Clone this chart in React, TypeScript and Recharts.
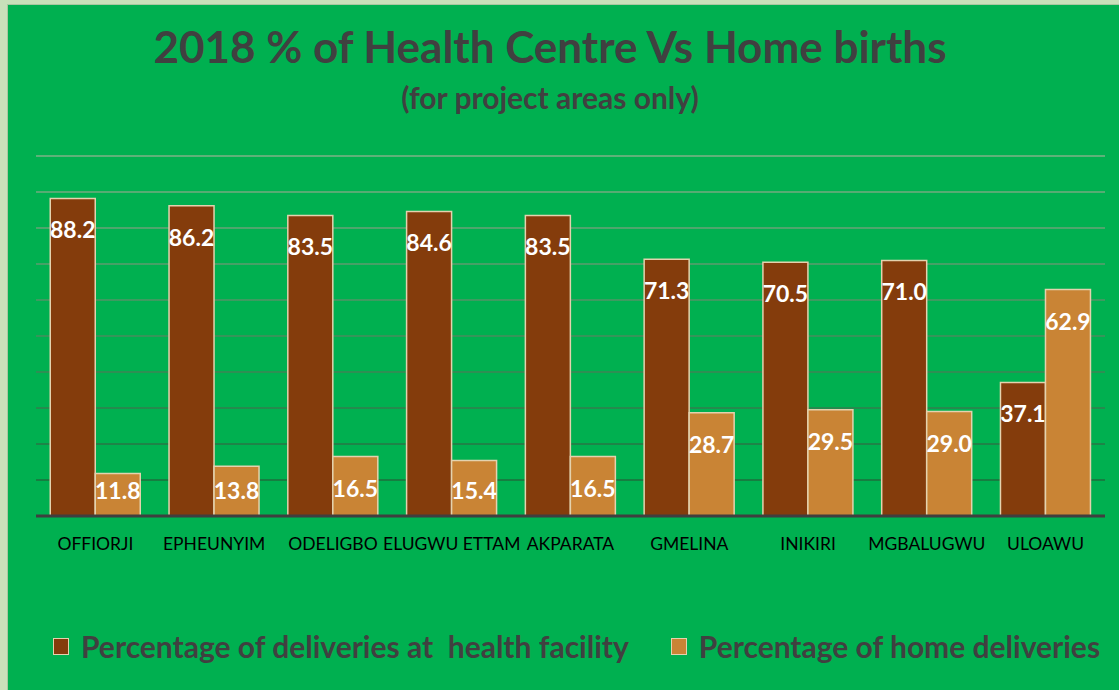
import { BarChart, Bar, XAxis, YAxis, CartesianGrid, LabelList } from 'recharts'

const villages = [
  'OFFIORJI',
  'EPHEUNYIM',
  'ODELIGBO',
  'ELUGWU ETTAM',
  'AKPARATA',
  'GMELINA',
  'INIKIRI',
  'MGBALUGWU',
  'ULOAWU',
]
const facilityPct = [88.2, 86.2, 83.5, 84.6, 83.5, 71.3, 70.5, 71.0, 37.1]
const homePct = [11.8, 13.8, 16.5, 15.4, 16.5, 28.7, 29.5, 29.0, 62.9]
const yTicks = [0, 10, 20, 30, 40, 50, 60, 70, 80, 90, 100]

const facilityLabel = 'Percentage of deliveries at  health facility'
const homeLabel = 'Percentage of home deliveries'

const BROWN = '#843C0C'
const ORANGE = '#C98435'
const BAR_EDGE = '#E4D2AE'
const TEXT_DARK = '#404040'
const FONT = 'Lato, "Open Sans", sans-serif'

const data = villages.map((name, i) => ({
  name,
  facility: facilityPct[i],
  home: homePct[i],
}))

// value labels sit ~31px under the bar top, but never lower than 26px above the axis
function ValueLabel(props: any) {
  const { x, y, width, height, value } = props
  const cy = Math.min(y + 31, y + height - 26)
  return (
    <text
      x={x + width / 2}
      y={cy}
      textAnchor="middle"
      dominantBaseline="central"
      fill="#FFFFFF"
      fontFamily={FONT}
      fontWeight={700}
      fontSize={23}
    >
      {Number(value).toFixed(1)}
    </text>
  )
}

function LegendItem({ color, label }: { color: string; label: string }) {
  return (
    <div style={{ display: 'flex', alignItems: 'center' }}>
      <span
        style={{
          display: 'inline-block',
          width: 14,
          height: 15,
          background: color,
          border: `1.5px solid ${BAR_EDGE}`,
          marginRight: 12,
        }}
      />
      <span style={{ fontSize: 30, fontWeight: 700, color: TEXT_DARK, whiteSpace: 'pre' }}>{label}</span>
    </div>
  )
}

export default function App() {
  return (
    <div
      style={{
        position: 'absolute',
        left: 0,
        top: 0,
        width: 1119,
        height: 690,
        background: '#C8E0BA',
        overflow: 'hidden',
        fontFamily: FONT,
      }}
    >
      <div
        style={{
          position: 'absolute',
          left: 7,
          top: 4,
          width: 1112,
          height: 686,
          background: '#00B050',
          borderLeft: '1px solid #A9C7A0',
          borderTop: '1px solid #A9C7A0',
        }}
      />
      <div
        style={{
          position: 'absolute',
          left: 0,
          width: 1100,
          top: 24,
          textAlign: 'center',
          fontSize: 44,
          fontWeight: 700,
          color: TEXT_DARK,
          lineHeight: 1,
        }}
      >
        2018 % of Health Centre Vs Home births
      </div>
      <div
        style={{
          position: 'absolute',
          left: 0,
          width: 1100,
          top: 82,
          textAlign: 'center',
          fontSize: 30,
          fontWeight: 700,
          color: TEXT_DARK,
          lineHeight: 1,
        }}
      >
        (for project areas only)
      </div>

      <div style={{ position: 'absolute', left: 0, top: 0 }}>
        <BarChart
          width={1119}
          height={690}
          data={data}
          margin={{ top: 156, right: 14, left: 36, bottom: 134 }}
          barCategoryGap="12%"
          barGap={0}
        >
          <defs>
            <linearGradient id="gridFade" x1="0" y1="156" x2="0" y2="516" gradientUnits="userSpaceOnUse">
              <stop offset="0%" stopColor="#7DB287" />
              <stop offset="100%" stopColor="#136634" />
            </linearGradient>
          </defs>
          <CartesianGrid vertical={false} stroke="url(#gridFade)" strokeWidth={1.5} />
          <YAxis hide domain={[0, 100]} ticks={yTicks} />
          <XAxis
            dataKey="name"
            height={40}
            interval={0}
            tickLine={false}
            tickMargin={16}
            axisLine={{ stroke: '#3F3F3F', strokeWidth: 3 }}
            tick={{ fill: '#000000', fontSize: 17.5, fontFamily: FONT }}
          />
          <Bar dataKey="facility" fill={BROWN} stroke={BAR_EDGE} strokeWidth={1.5} isAnimationActive={false}>
            <LabelList dataKey="facility" content={ValueLabel} />
          </Bar>
          <Bar dataKey="home" fill={ORANGE} stroke={BAR_EDGE} strokeWidth={1.5} isAnimationActive={false}>
            <LabelList dataKey="home" content={ValueLabel} />
          </Bar>
        </BarChart>
      </div>

      <div
        style={{
          position: 'absolute',
          left: 53,
          top: 628,
          display: 'flex',
          gap: 42,
        }}
      >
        <LegendItem color={BROWN} label={facilityLabel} />
        <LegendItem color={ORANGE} label={homeLabel} />
      </div>
    </div>
  )
}
